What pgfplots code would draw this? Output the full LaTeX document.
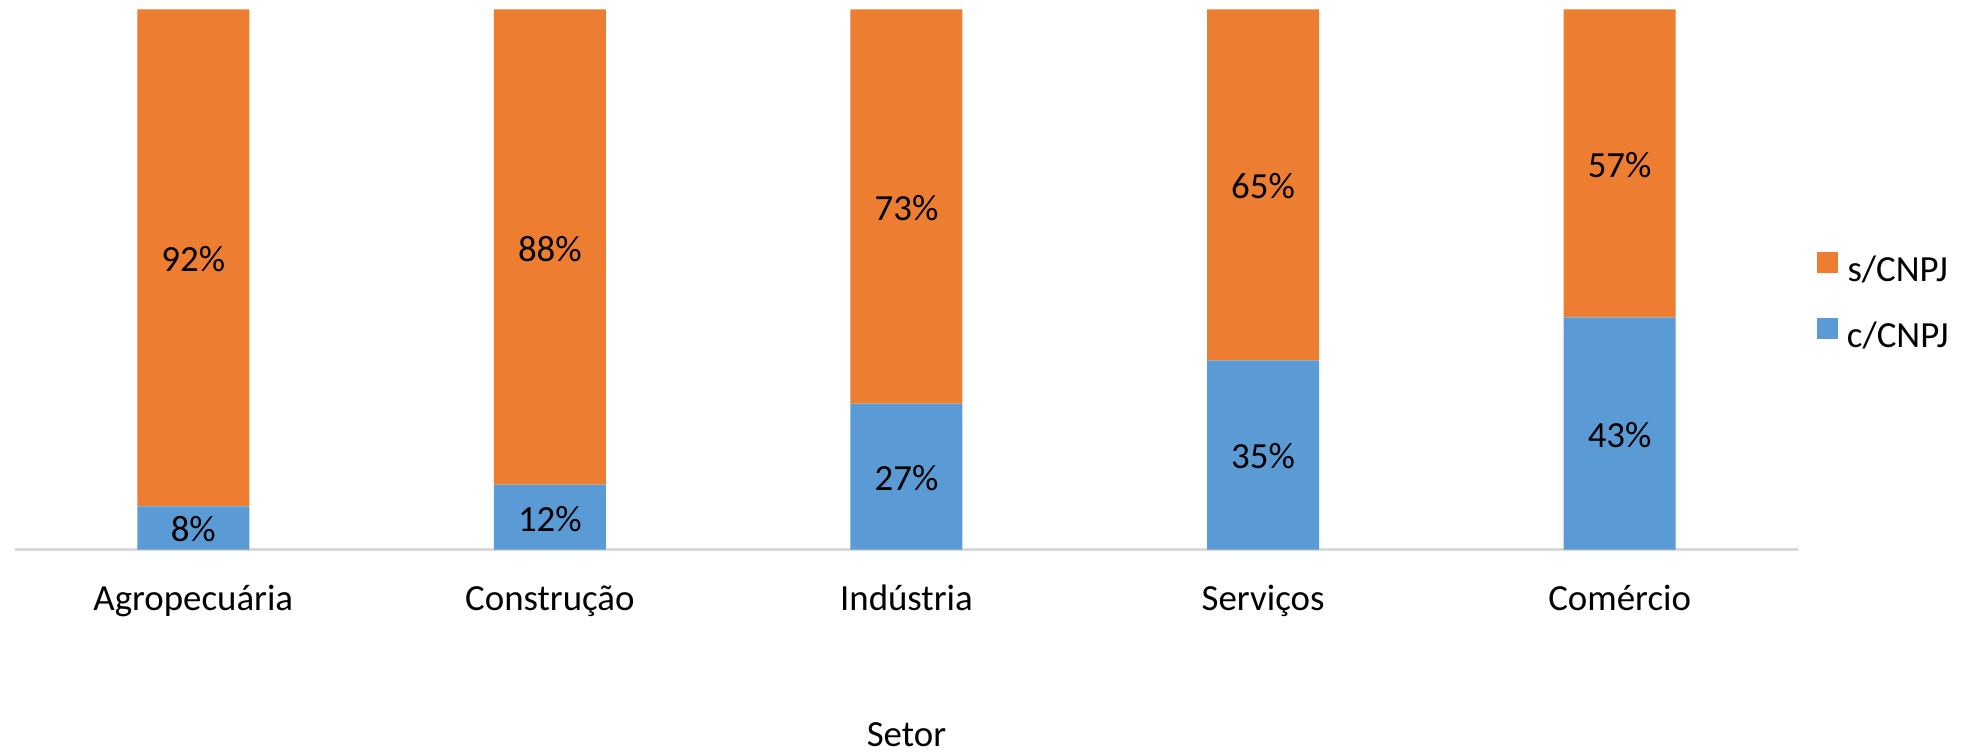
\documentclass[border=0pt]{standalone}
\usepackage{fontspec}
\setmainfont{Carlito}
\usepackage{pgfplots}
\pgfplotsset{compat=1.18}
\definecolor{corange}{HTML}{ED7D31}
\definecolor{cblue}{HTML}{5B9BD5}
\definecolor{caxis}{HTML}{D9D9D9}
\newcommand{\bigf}{\fontsize{37}{44}\selectfont}
\begin{document}
\begin{tikzpicture}
\begin{axis}[
  at={(15bp,202.5bp)}, anchor=south west,
  scale only axis, width=1783bp, height=540bp,
  ybar stacked, bar width=112bp,
  ymin=0, ymax=100, xmin=-0.5, xmax=4.5,
  axis x line=bottom, axis y line=none,
  x axis line style={draw=caxis, line width=2bp, -},
  xtick={0,...,4},
  xticklabels={Agropecuária,Construção,Indústria,Serviços,Comércio},
  major tick length=0pt, ytick=\empty,
  xticklabel style={anchor=base, yshift=-60.5bp, inner sep=0pt, font=\bigf, text=black},
  xlabel={Setor},
  xlabel style={at={(axis description cs:0.5,0)}, anchor=base, yshift=-196.5bp, inner sep=0pt, font=\bigf},
  point meta=explicit symbolic,
  nodes near coords={\pgfplotspointmeta},
  every node near coord/.append style={anchor=center, yshift=-1.5bp, font=\bigf, text=black, inner sep=0pt},
  legend style={at={(axis description cs:1.01066,0.55093)}, anchor=north west, draw=none, fill=none, inner sep=0pt, outer sep=0pt, row sep=27bp, column sep=9bp, font=\bigf, nodes={inner sep=0pt, text height=27bp, text depth=9bp}},
  reverse legend,
]
\addplot[fill=cblue, draw=none, legend image code/.code={\fill[cblue] (0bp,0bp) rectangle (21bp,21bp);}] coordinates {
  (0,8) [8\%] (1,12) [12\%] (2,27) [27\%] (3,35) [35\%] (4,43) [43\%]};
\addplot[fill=corange, draw=none, legend image code/.code={\fill[corange] (0bp,0bp) rectangle (21bp,21bp);}] coordinates {
  (0,92) [92\%] (1,88) [88\%] (2,73) [73\%] (3,65) [65\%] (4,57) [57\%]};
\legend{c/CNPJ, s/CNPJ}
\end{axis}
\pgfresetboundingbox
\useasboundingbox (0,0) rectangle (1965bp,752bp);
\end{tikzpicture}
\end{document}
